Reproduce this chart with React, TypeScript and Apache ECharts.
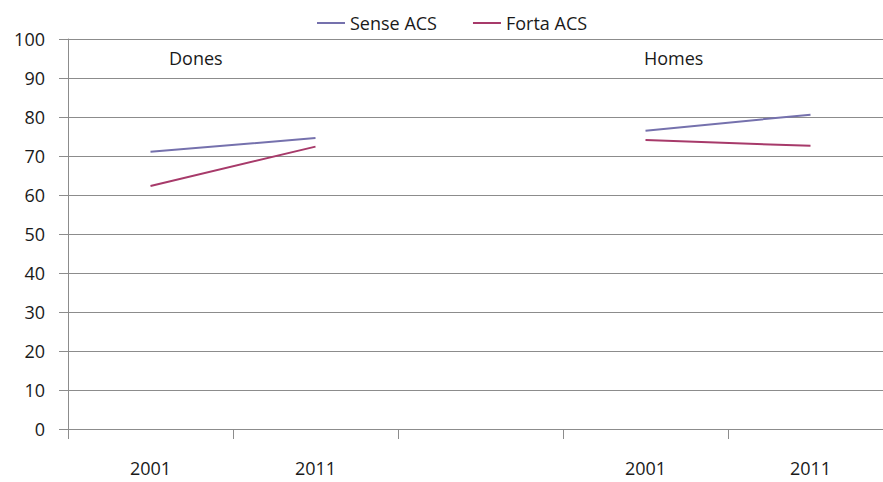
import React, { useEffect, useRef } from "react";
import * as echarts from "echarts";

const categories = ["2001", "2011", "", "2001", "2011"];
const senseACS = [71.1, 74.6, null, 76.5, 80.6];
const fortaACS = [62.3, 72.4, null, 74.1, 72.6];
const yTicks = { min: 0, max: 100, interval: 10 };
const groupLabels = ["Dones", "Homes"];

const FONT = "'Open Sans', sans-serif";

export default function App() {
  const ref = useRef<HTMLDivElement>(null);
  useEffect(() => {
    if (!ref.current) return;
    const chart = echarts.init(ref.current, null, { renderer: "svg" });
    chart.setOption({
      animation: false,
      backgroundColor: "#ffffff",
      textStyle: { fontFamily: FONT },
      grid: { left: 68, right: 0, top: 39, bottom: 53, containLabel: false },
      legend: {
        top: 9,
        left: 312,
        icon: "rect",
        itemWidth: 28,
        itemHeight: 2,
        itemGap: 36,
        textStyle: { fontFamily: FONT, fontSize: 18, color: "#1a1a1a" },
        data: ["Sense ACS", "Forta ACS"],
      },
      xAxis: {
        type: "category",
        data: categories,
        boundaryGap: true,
        axisLine: { show: true, lineStyle: { color: "#8c8c8c", width: 1 } },
        axisTick: { show: true, length: 10, lineStyle: { color: "#8c8c8c" } },
        axisLabel: { color: "#1a1a1a", fontSize: 18, fontFamily: FONT, margin: 30, interval: 0 },
        splitLine: { show: false },
      },
      yAxis: {
        type: "value",
        min: yTicks.min,
        max: yTicks.max,
        interval: yTicks.interval,
        axisLine: { show: true, lineStyle: { color: "#8c8c8c", width: 1 } },
        axisTick: { show: true, length: 9, lineStyle: { color: "#8c8c8c" } },
        axisLabel: { color: "#1a1a1a", fontSize: 18, fontFamily: FONT, margin: 23 },
        splitLine: { show: true, lineStyle: { color: "#8c8c8c", width: 1 } },
      },
      series: [
        {
          name: "Sense ACS",
          type: "line",
          data: senseACS,
          symbol: "none",
          connectNulls: false,
          lineStyle: { color: "#7571ad", width: 2 },
          itemStyle: { color: "#7571ad" },
        },
        {
          name: "Forta ACS",
          type: "line",
          data: fortaACS,
          symbol: "none",
          connectNulls: false,
          lineStyle: { color: "#a73a6a", width: 2 },
          itemStyle: { color: "#a73a6a" },
        },
      ],
      graphic: [
        {
          type: "text",
          left: 169,
          top: 49,
          style: { text: groupLabels[0], font: `18px ${FONT}`, fill: "#1a1a1a" },
        },
        {
          type: "text",
          left: 644,
          top: 49,
          style: { text: groupLabels[1], font: `18px ${FONT}`, fill: "#1a1a1a" },
        },
      ],
    });
    return () => chart.dispose();
  }, []);
  return (
    <div
      ref={ref}
      style={{ position: "fixed", left: 0, top: 0, width: 893, height: 482, background: "#fff" }}
    />
  );
}
